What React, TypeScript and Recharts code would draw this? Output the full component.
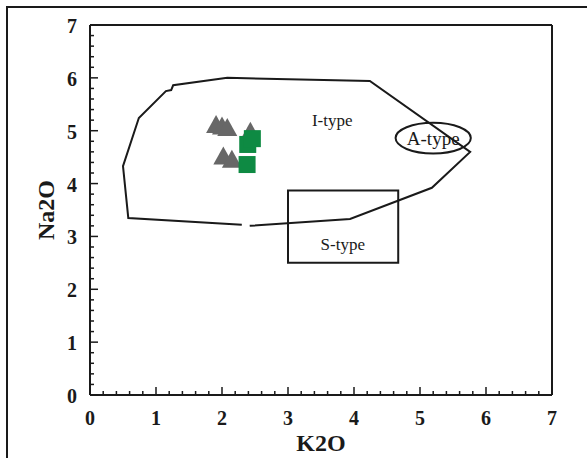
import { ScatterChart, Scatter, XAxis, YAxis, ReferenceArea, ReferenceDot } from 'recharts';

// integer ticks on both axes, with four minor ticks between each pair
const majorTicks = [0, 1, 2, 3, 4, 5, 6, 7];
const minorPerMajor = 5;

// I-type field outline (K2O, Na2O), open at the bottom near K2O 2.3-2.4
const iTypeBoundary = [
  { k: 2.42, na: 3.2 },
  { k: 3.94, na: 3.33 },
  { k: 5.18, na: 3.92 },
  { k: 5.76, na: 4.6 },
  { k: 4.24, na: 5.94 },
  { k: 2.08, na: 6.0 },
  { k: 1.26, na: 5.86 },
  { k: 1.23, na: 5.77 },
  { k: 1.15, na: 5.75 },
  { k: 0.74, na: 5.24 },
  { k: 0.5, na: 4.33 },
  { k: 0.58, na: 3.35 },
  { k: 2.3, na: 3.22 },
];

// S-type box and A-type ellipse bounds
const sTypeBox = { k1: 3.0, k2: 4.67, na1: 2.5, na2: 3.87 };
const aTypeBounds = { k1: 4.63, k2: 5.77, na1: 4.57, na2: 5.15 };

const fieldLabels = [
  { name: 'I-type', k: 3.67, na: 5.2, size: 17 },
  { name: 'S-type', k: 3.83, na: 2.86, size: 17 },
  { name: 'A-type', k: 5.2, na: 4.86, size: 19 },
];

const triangleSamples = [
  { k: 1.91, na: 5.11 },
  { k: 2.0, na: 5.08 },
  { k: 2.08, na: 5.05 },
  { k: 2.02, na: 4.51 },
  { k: 2.15, na: 4.45 },
  { k: 2.43, na: 4.98 },
];

const squareSamples = [
  { k: 2.39, na: 4.74 },
  { k: 2.46, na: 4.85 },
  { k: 2.38, na: 4.36 },
];

const allTicks: number[] = [];
majorTicks.forEach((m, i) => {
  if (i === majorTicks.length - 1) {
    allTicks.push(m);
    return;
  }
  for (let j = 0; j < minorPerMajor; j++) {
    allTicks.push(Number((m + j / minorPerMajor).toFixed(2)));
  }
});

const INK = '#1a1a1a';
const SERIF = '"Liberation Serif", "Times New Roman", serif';
const MAJOR_LEN = 8;
const MINOR_LEN = 4;

const isMajor = (v: number) => Math.abs(v - Math.round(v)) < 1e-6;

const tickText = {
  fontFamily: SERIF,
  fontWeight: 700,
  fontSize: 20,
  fill: INK,
};

const BottomTick = ({ x, y, payload }: any) => {
  const major = isMajor(payload.value);
  return (
    <g>
      <line x1={x} y1={y} x2={x} y2={y - (major ? MAJOR_LEN : MINOR_LEN)} stroke={INK} strokeWidth={1.5} />
      {major && (
        <text x={x} y={y + 30} textAnchor="middle" {...tickText}>
          {payload.value}
        </text>
      )}
    </g>
  );
};

const TopTick = ({ x, y, payload }: any) => {
  const major = isMajor(payload.value);
  return <line x1={x} y1={y} x2={x} y2={y + (major ? MAJOR_LEN : MINOR_LEN)} stroke={INK} strokeWidth={1.5} />;
};

const LeftTick = ({ x, y, payload }: any) => {
  const major = isMajor(payload.value);
  return (
    <g>
      <line x1={x} y1={y} x2={x + (major ? MAJOR_LEN : MINOR_LEN)} y2={y} stroke={INK} strokeWidth={1.5} />
      {major && (
        <text x={x - 13} y={y + 8} textAnchor="end" {...tickText}>
          {payload.value}
        </text>
      )}
    </g>
  );
};

const RightTick = ({ x, y, payload }: any) => {
  const major = isMajor(payload.value);
  return <line x1={x} y1={y} x2={x - (major ? MAJOR_LEN : MINOR_LEN)} y2={y} stroke={INK} strokeWidth={1.5} />;
};

const TriangleMark = ({ cx, cy }: any) => (
  <polygon points={`${cx},${cy - 10} ${cx + 10},${cy + 8} ${cx - 10},${cy + 8}`} fill="#676767" />
);

const SquareMark = ({ cx, cy }: any) => (
  <rect x={cx - 8.5} y={cy - 8.5} width={17} height={17} fill="#0e8a43" />
);

const EllipseShape = ({ x, y, width, height }: any) => (
  <ellipse
    cx={x + width / 2}
    cy={y + height / 2}
    rx={width / 2}
    ry={height / 2}
    fill="none"
    stroke={INK}
    strokeWidth={2}
  />
);

const axisLine = { stroke: INK, strokeWidth: 2 };

export default function App() {
  return (
    <div style={{ position: 'absolute', left: 0, top: 0, width: 587, height: 458, overflow: 'hidden', background: '#fff' }}>
      {/* outer figure frame */}
      <div
        style={{
          position: 'absolute',
          left: 6,
          top: 6,
          width: 700,
          height: 600,
          borderTop: `2px solid ${INK}`,
          borderLeft: `2px solid ${INK}`,
        }}
      />
      <ScatterChart width={587} height={458} margin={{ top: 24, right: 34, bottom: 23, left: 30 }}>
        <XAxis
          type="number"
          dataKey="k"
          domain={[0, 7]}
          ticks={allTicks}
          interval={0}
          tickSize={0}
          tickMargin={0}
          tickLine={false}
          tick={<BottomTick />}
          axisLine={axisLine}
          height={40}
          label={{
            value: 'K2O',
            position: 'insideBottom',
            offset: -16,
            style: { fontFamily: SERIF, fontWeight: 700, fontSize: 24, fill: INK },
          }}
        />
        <XAxis
          xAxisId="top"
          orientation="top"
          type="number"
          domain={[0, 7]}
          ticks={allTicks}
          interval={0}
          tickSize={0}
          tickMargin={0}
          tickLine={false}
          tick={<TopTick />}
          axisLine={axisLine}
          height={1}
        />
        <YAxis
          type="number"
          dataKey="na"
          domain={[0, 7]}
          ticks={allTicks}
          interval={0}
          tickSize={0}
          tickMargin={0}
          tickLine={false}
          tick={<LeftTick />}
          axisLine={axisLine}
          width={60}
          label={{
            value: 'Na2O',
            angle: -90,
            position: 'insideLeft',
            offset: 15,
            style: { textAnchor: 'middle', fontFamily: SERIF, fontWeight: 700, fontSize: 24, fill: INK },
          }}
        />
        <YAxis
          yAxisId="right"
          orientation="right"
          type="number"
          domain={[0, 7]}
          ticks={allTicks}
          interval={0}
          tickSize={0}
          tickMargin={0}
          tickLine={false}
          tick={<RightTick />}
          axisLine={axisLine}
          width={1}
        />

        <ReferenceArea
          x1={sTypeBox.k1}
          x2={sTypeBox.k2}
          y1={sTypeBox.na1}
          y2={sTypeBox.na2}
          fill="none"
          stroke={INK}
          strokeWidth={2}
        />
        <ReferenceArea
          x1={aTypeBounds.k1}
          x2={aTypeBounds.k2}
          y1={aTypeBounds.na1}
          y2={aTypeBounds.na2}
          shape={<EllipseShape />}
        />

        <Scatter
          data={iTypeBoundary}
          line={{ stroke: INK, strokeWidth: 2 }}
          lineJointType="linear"
          shape={() => <g />}
          isAnimationActive={false}
        />
        <Scatter data={triangleSamples} shape={<TriangleMark />} isAnimationActive={false} />
        <Scatter data={squareSamples} shape={<SquareMark />} isAnimationActive={false} />

        {fieldLabels.map((f) => (
          <ReferenceDot
            key={f.name}
            x={f.k}
            y={f.na}
            r={0}
            fill="none"
            stroke="none"
            label={{
              value: f.name,
              position: 'center',
              style: { fontFamily: SERIF, fontSize: f.size, fill: INK },
            }}
          />
        ))}
      </ScatterChart>
    </div>
  );
}
